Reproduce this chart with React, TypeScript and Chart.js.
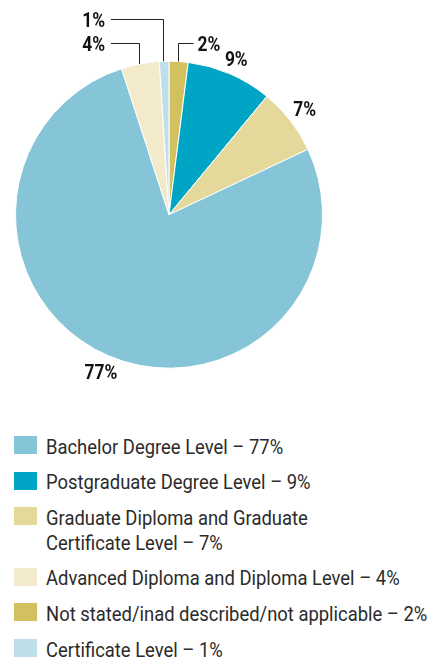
import React, { useEffect, useRef } from "react";
import { Chart, registerables } from "chart.js";

Chart.register(...registerables);

// Slices in drawing order (clockwise from 12 o'clock)
const categories = [
  "Not stated/inad described/not applicable",
  "Postgraduate Degree Level",
  "Graduate Diploma and Graduate Certificate Level",
  "Bachelor Degree Level",
  "Advanced Diploma and Diploma Level",
  "Certificate Level",
];
const values = [2, 9, 7, 77, 4, 1];
const colors = ["#D3C15F", "#00A5C5", "#E5D89B", "#86C4D8", "#F2EACA", "#BEDFEA"];

// Legend text (line breaks as in the reference) and legend order
const legendLabels = [
  "Not stated/inad described/not applicable – 2%",
  "Postgraduate Degree Level – 9%",
  "Graduate Diploma and Graduate\nCertificate Level – 7%",
  "Bachelor Degree Level – 77%",
  "Advanced Diploma and Diploma Level – 4%",
  "Certificate Level – 1%",
];
const legendOrder = [3, 1, 2, 4, 0, 5];

const SMALL_LIMIT = 5;
const labelFont = 'bold 20px Roboto, "DejaVu Sans", sans-serif';
const LABEL_SX = 0.87;
const CAP = 14;

const drawLabel = (ctx: CanvasRenderingContext2D, txt: string, x: number, y: number, align: "left" | "right" | "center") => {
  const w = ctx.measureText(txt).width * LABEL_SX;
  const x0 = align === "left" ? x : align === "right" ? x - w : x - w / 2;
  ctx.save();
  ctx.translate(x0, y);
  ctx.scale(LABEL_SX, 1);
  ctx.textAlign = "left";
  ctx.fillText(txt, 0, 0);
  ctx.restore();
};

const pieLabels = {
  id: "pieLabels",
  afterDraw(chart: any) {
    const ctx = chart.ctx as CanvasRenderingContext2D;
    const arcs = chart.getDatasetMeta(0).data as any[];
    if (!arcs.length) return;
    const cx = arcs[0].x;
    const cy = arcs[0].y;
    const r = arcs[0].outerRadius;
    ctx.save();
    ctx.font = labelFont;
    ctx.fillStyle = "#111";
    ctx.strokeStyle = "#222";
    ctx.lineWidth = 1;
    ctx.textBaseline = "alphabetic";
    const smalls: any[] = [];
    arcs.forEach((arc, i) => {
      const v = values[i];
      const txt = v + "%";
      const mid = (arc.startAngle + arc.endAngle) / 2;
      const c = Math.cos(mid);
      const s = Math.sin(mid);
      if (v < SMALL_LIMIT) {
        smalls.push({ txt, px: cx + c * r, py: cy + s * r });
        return;
      }
      const w = ctx.measureText(txt).width * LABEL_SX;
      const d = r + 5 + (Math.abs(c) * w) / 2 + (Math.abs(s) * CAP) / 2;
      drawLabel(ctx, txt, cx + c * d, cy + s * d + CAP / 2, "center");
    });
    const left = smalls.filter((p) => p.px < cx).sort((a, b) => Math.abs(a.px - cx) - Math.abs(b.px - cx));
    const right = smalls.filter((p) => p.px >= cx).sort((a, b) => Math.abs(a.px - cx) - Math.abs(b.px - cx));
    const top = cy - r;
    const drawSide = (list: any[], isLeft: boolean) => {
      if (!list.length) return;
      const minX = Math.min(...list.map((p) => p.px));
      list.forEach((p, rank) => {
        const tier = list.length - 1 - rank;
        const ly = Math.round(top - 18 - tier * 24) + 0.5;
        const vx = Math.round(p.px) - 0.5;
        const endX = isLeft ? Math.round(minX) - 29 : vx + 15;
        ctx.beginPath();
        ctx.moveTo(vx, p.py);
        ctx.lineTo(vx, ly);
        ctx.lineTo(endX, ly);
        ctx.stroke();
        drawLabel(ctx, p.txt, isLeft ? endX - 6 : endX + 4, ly + CAP / 2, isLeft ? "right" : "left");
      });
    };
    drawSide(left, true);
    drawSide(right, false);
    ctx.restore();
  },
};

export default function App() {
  const ref = useRef<HTMLCanvasElement>(null);
  useEffect(() => {
    document.body.style.margin = "0";
    if (!ref.current) return;
    const chart = new Chart(ref.current, {
      type: "pie",
      data: {
        labels: categories,
        datasets: [
          {
            data: values,
            backgroundColor: colors,
            borderColor: "#ffffff",
            borderWidth: 1,
          },
        ],
      },
      options: {
        responsive: false,
        animation: false,
        layout: { padding: { left: 15, right: 114, top: 60.7, bottom: 51.3 } },
        plugins: { legend: { display: false }, tooltip: { enabled: false } },
      },
      plugins: [pieLabels],
    } as any);
    return () => chart.destroy();
  }, []);

  return (
    <div style={{ width: 437, height: 659, overflow: "hidden", position: "relative", background: "#fff" }}>
      <canvas ref={ref} width={437} height={420} style={{ display: "block", width: 437, height: 420 }} />
      <div style={{ paddingTop: 14.7 }}>
        {legendOrder.map((idx) => (
          <div key={idx} style={{ display: "flex", alignItems: "flex-start", marginBottom: 10.6 }}>
            <div
              style={{
                width: 23,
                height: 18,
                marginTop: 1.3,
                marginLeft: 14,
                marginRight: 9,
                flexShrink: 0,
                background: colors[idx],
              }}
            />
            <div
              style={{
                font: '19.5px Roboto, "Noto Sans", sans-serif',
                lineHeight: "25px",
                color: "#2b2b2b",
                whiteSpace: "pre",
                transform: "scaleX(0.944)",
                transformOrigin: "left top",
              }}
            >
              {legendLabels[idx]}
            </div>
          </div>
        ))}
      </div>
    </div>
  );
}
